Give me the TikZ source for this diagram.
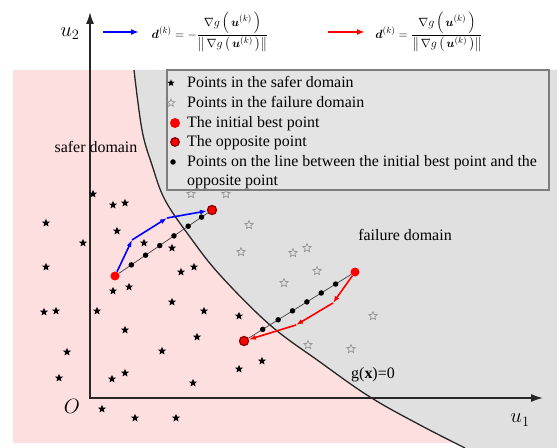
\documentclass[tikz,border=0pt]{standalone}
\usepackage{amsmath}
\usepackage{fontspec}
\setmainfont{Liberation Serif}
\usetikzlibrary{shapes.geometric,arrows.meta}
\definecolor{pinkbg}{RGB}{253,223,223}
\definecolor{greybg}{RGB}{224,224,224}
\definecolor{legbg}{RGB}{228,228,228}
\definecolor{legborder}{RGB}{125,125,125}
\definecolor{oppborder}{RGB}{140,0,0}
\tikzset{
  sstar/.style={star,star points=5,star point ratio=2.3,fill=black,inner sep=0pt,minimum size=8.5bp},
  fstar/.style={star,star points=5,star point ratio=2.3,draw=black!45,line width=0.6bp,inner sep=0pt,minimum size=9bp},
  bestpt/.style={circle,fill=red,inner sep=0pt,minimum size=9bp},
  opppt/.style={circle,fill=red,draw=oppborder,line width=1.3bp,inner sep=0pt,minimum size=9bp},
  linept/.style={circle,fill=black,inner sep=0pt,minimum size=5.5bp},
  axisline/.style={line width=1.6bp,black!85,{Latex[length=12bp,width=8bp]}-{Latex[length=12bp,width=8bp]}},
  bluearr/.style={blue,line width=1.6bp,-{Latex[length=7bp,width=5bp]}},
  redarr/.style={red,line width=1.6bp,-{Latex[length=7bp,width=5bp]}},
  keyarr/.style={line width=1.6bp,-{Latex[length=8bp,width=6bp]}},
  joinline/.style={black!75,line width=0.7bp},
  legtext/.style={anchor=base west,inner sep=0pt,font=\fontsize{16}{19}\selectfont},
  lbl/.style={inner sep=0pt,font=\fontsize{16}{19}\selectfont},
  axlbl/.style={inner sep=0pt,font=\fontsize{20}{24}\selectfont},
  formula/.style={inner sep=0pt,font=\fontsize{13}{16}\selectfont}
}
\begin{document}
\begin{tikzpicture}[x=1bp,y=-1bp]
\useasboundingbox (0,0) rectangle (557,448);
% backgrounds
\fill[pinkbg] (13,70) rectangle (557,443);
\fill[greybg] plot[smooth,tension=0.6] coordinates {(134,70) (142,130) (152,165) (165,200) (190,237) (220,275) (270,325) (320,362) (370,397) (420,425) (465,448)} -- (557,448) -- (557,70) -- cycle;
\draw[black!85,line width=1.3bp] plot[smooth,tension=0.6] coordinates {(134,70) (142,130) (152,165) (165,200) (190,237) (220,275) (270,325) (320,362) (370,397) (420,425) (465,448)};
% axes
\coordinate (u2tip) at (90,12);
\coordinate (origin) at (90,398);
\coordinate (u1tip) at (543,398);
\draw[axisline] (u2tip) -- (origin) -- (u1tip);
\node[axlbl] (lu2) at (70,34) {$u_2$};
\node[axlbl] (lu1) at (520,420) {$u_1$};
\node[axlbl] (lO) at (72,406) {$O$};
% legend box
\draw[legborder,fill=legbg,line width=1.2bp] (167,70) rectangle (549,190);
\node[sstar,minimum size=7.5bp] (k1) at (171,83) {};
\node[legtext] (t1) at (187,88) {Points in the safer domain};
\node[fstar,minimum size=8bp] (k2) at (171,103) {};
\node[legtext] (t2) at (187,108) {Points in the failure domain};
\node[bestpt,minimum size=10bp] (k3) at (175,123) {};
\node[legtext] (t3) at (187,128) {The initial best point};
\node[opppt,minimum size=8.5bp] (k4) at (175,142) {};
\node[legtext] (t4) at (187,147) {The opposite point};
\node[linept] (k5) at (173,162) {};
\node[legtext] (t5) at (187,167) {Points on the line between the initial best point and the};
\node[legtext] (t6) at (187,186) {opposite point};
% region labels
\node[lbl] (safer) at (96,147) {safer domain};
\node[lbl] (failure) at (405,235) {failure domain};
\node[lbl] (gx) at (373,375) {g(\textbf{x})=0};
% safe stars
\foreach \x/\y [count=\i] in {93/194,113/205,125/203,46/223,117/231,83/243,144/243,172/248,46/267,181/272,194/267,129/287,113/291,172/302,44/312,56/311,97/311,204/311,239/316,125/330,197/337,162/351,262/361,239/369,125/373,112/379,193/383,102/409,135/418,176/418,67/352,59/378}
  \node[sstar] (s\i) at (\x,\y) {};
% failure stars
\foreach \x/\y [count=\i] in {191/194,226/194,249/225,241/252,293/253,307/248,317/271,284/283,373/316,308/345,351/349}
  \node[fstar] (f\i) at (\x,\y) {};
% left search
\node[bestpt] (ib1) at (115,276) {};
\node[opppt] (op1) at (212,210) {};
\draw[joinline] (ib1) -- (op1)
  node[linept,pos=0.14] (a1) {} node[linept,pos=0.30] (a2) {} node[linept,pos=0.46] (a3) {}
  node[linept,pos=0.62] (a4) {} node[linept,pos=0.78] (a5) {} node[linept,pos=0.93] (a6) {};
\coordinate (b1) at (132,240);
\coordinate (b2) at (167,218);
\draw[bluearr] (ib1) -- (b1);
\draw[bluearr] (b1) -- (b2);
\draw[bluearr] (b2) -- (op1);
% right search
\node[bestpt] (ib2) at (355,272) {};
\node[opppt] (op2) at (244,341) {};
\draw[joinline] (ib2) -- (op2)
  node[linept,pos=0.15] (c1) {} node[linept,pos=0.29] (c2) {} node[linept,pos=0.43] (c3) {}
  node[linept,pos=0.57] (c4) {} node[linept,pos=0.71] (c5) {} node[linept,pos=0.86] (c6) {};
\coordinate (r1) at (333,303);
\coordinate (r2) at (296,325);
\draw[redarr] (ib2) -- (r1);
\draw[redarr] (r1) -- (r2);
\draw[redarr] (r2) -- (op2);
% top key
\coordinate (bk0) at (103,32);
\coordinate (bk1) at (139,32);
\draw[keyarr,blue] (bk0) -- (bk1);
\node[formula] (form1) at (210,32) {$\displaystyle \boldsymbol{d}^{(k)}=-\frac{\nabla g\left(\,\boldsymbol{u}^{(k)}\,\right)}{\left\|\,\nabla g\left(\,\boldsymbol{u}^{(k)}\,\right)\right\|}$};
\coordinate (rk0) at (328,32);
\coordinate (rk1) at (365,32);
\draw[keyarr,red] (rk0) -- (rk1);
\node[formula] (form2) at (429,32) {$\displaystyle \boldsymbol{d}^{(k)}=\frac{\nabla g\left(\,\boldsymbol{u}^{(k)}\,\right)}{\left\|\,\nabla g\left(\,\boldsymbol{u}^{(k)}\,\right)\right\|}$};
\end{tikzpicture}
\end{document}
